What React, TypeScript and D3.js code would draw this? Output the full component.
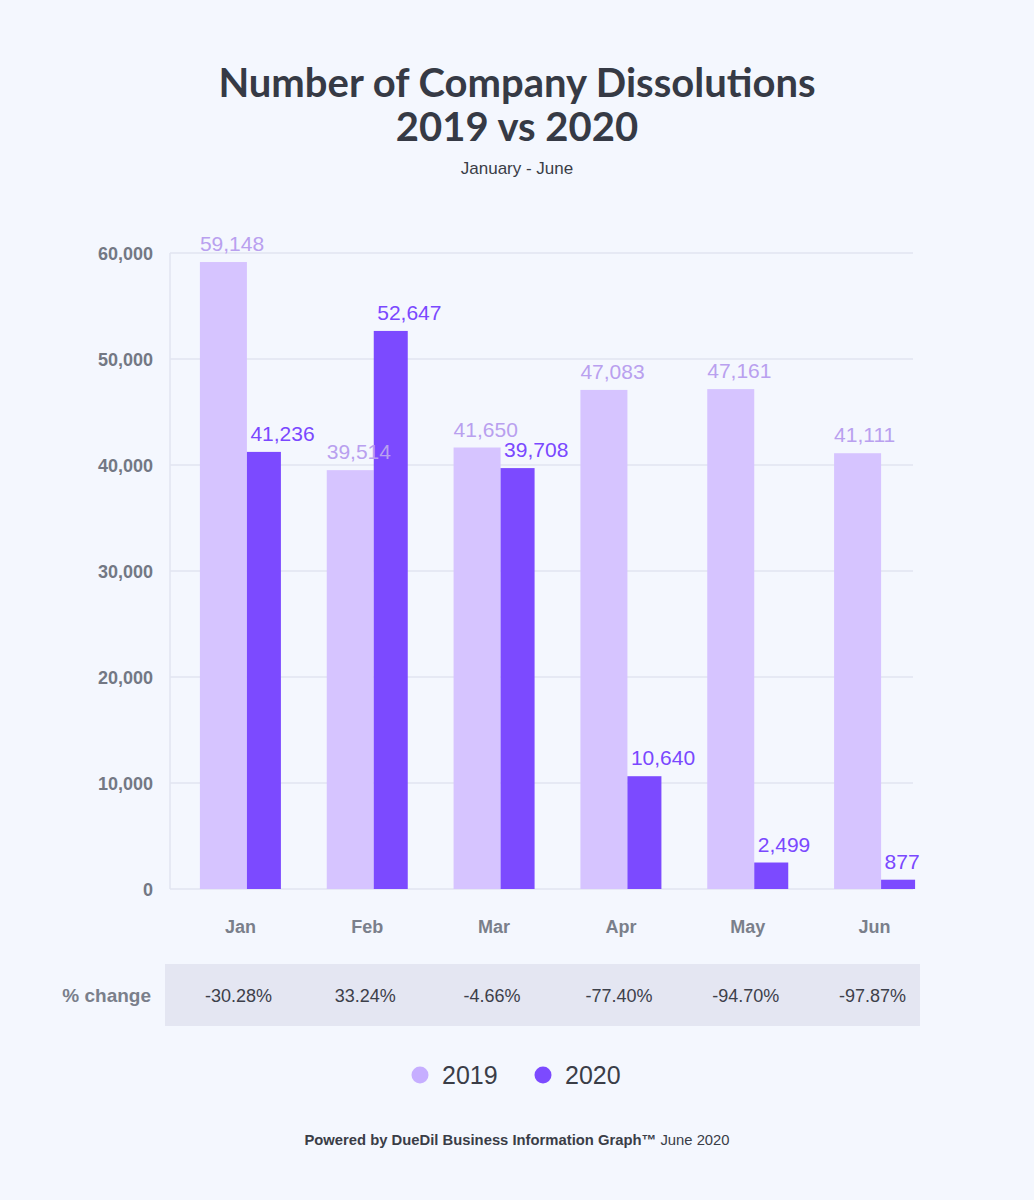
import React, { useRef, useEffect } from "react";
import * as d3 from "d3";

const months = ["Jan", "Feb", "Mar", "Apr", "May", "Jun"];
const values2019 = [59148, 39514, 41650, 47083, 47161, 41111];
const values2020 = [41236, 52647, 39708, 10640, 2499, 877];
const pctChange = ["-30.28%", "33.24%", "-4.66%", "-77.40%", "-94.70%", "-97.87%"];
const yTicks = [0, 10000, 20000, 30000, 40000, 50000, 60000];
const seriesNames = ["2019", "2020"];

const SANS = "'Liberation Sans', Arial, Helvetica, sans-serif";
const TITLE_FONT = "Lato, 'Liberation Sans', sans-serif";

const App = () => {
  const svgRef = useRef<SVGSVGElement>(null);

  useEffect(() => {
    document.body.style.margin = "0";
    const w = 1034;
    const h = 1200;
    const svg = d3
      .select(svgRef.current)
      .attr("width", w)
      .attr("height", h)
      .style("display", "block")
      .style("background", "#f4f7fe");

    svg.selectAll("*").remove();

    const xScale = d3.scaleBand().domain(months).range([177, 938]).padding(0);
    const yScale = d3.scaleLinear().domain([0, 60000]).range([889, 253]);
    const colors = d3.scaleOrdinal<string>().domain(seriesNames).range(["#d6c4ff", "#7c4aff"]);
    const labelColors = ["#b9a0ef", "#7a48ff"];
    const w2019 = 47;
    const w2020 = 34;
    const center = (m: string) => (xScale(m) as number) + xScale.bandwidth() / 2;

    // Titles
    svg.append("text").attr("x", w / 2).attr("y", 97).attr("text-anchor", "middle")
      .attr("font-family", TITLE_FONT).attr("font-weight", 700).attr("font-size", 40)
      .attr("fill", "#363a45").text("Number of Company Dissolutions");
    svg.append("text").attr("x", w / 2).attr("y", 141).attr("text-anchor", "middle")
      .attr("font-family", TITLE_FONT).attr("font-weight", 700).attr("font-size", 40)
      .attr("fill", "#363a45").text("2019 vs 2020");
    svg.append("text").attr("x", w / 2).attr("y", 174).attr("text-anchor", "middle")
      .attr("font-family", SANS).attr("font-size", 17)
      .attr("fill", "#3a3d47").text("January - June");

    // Grid lines
    svg.append("g").selectAll("line").data(yTicks).enter().append("line")
      .attr("x1", 170).attr("x2", 913)
      .attr("y1", (d) => yScale(d)).attr("y2", (d) => yScale(d))
      .attr("stroke", "#e2e4f0").attr("stroke-width", 1.5);
    svg.append("line").attr("x1", 170).attr("x2", 170)
      .attr("y1", yScale(60000)).attr("y2", yScale(0))
      .attr("stroke", "#e2e4f0").attr("stroke-width", 1.5);

    // Y axis labels
    const yAxis = d3.axisLeft(yScale).tickValues(yTicks).tickFormat(d3.format(",")).tickSize(0).tickPadding(17);
    const yg = svg.append("g").attr("transform", "translate(170,0)").call(yAxis);
    yg.select(".domain").remove();
    yg.selectAll(".tick text")
      .attr("font-family", SANS).attr("font-weight", 700).attr("font-size", 18)
      .attr("fill", "#737884").attr("dy", "0.36em");

    // Bars
    svg.append("g").selectAll("rect").data(values2019).enter().append("rect")
      .attr("x", (d, i) => center(months[i]) - 40.5)
      .attr("y", (d) => yScale(d))
      .attr("width", w2019)
      .attr("height", (d) => yScale(0) - yScale(d))
      .attr("fill", colors("2019"));
    svg.append("g").selectAll("rect").data(values2020).enter().append("rect")
      .attr("x", (d, i) => center(months[i]) + 6.5)
      .attr("y", (d) => yScale(d))
      .attr("width", w2020)
      .attr("height", (d) => yScale(0) - yScale(d))
      .attr("fill", colors("2020"));

    // Value labels
    svg.append("g").selectAll("text").data(values2019).enter().append("text")
      .attr("x", (d, i) => center(months[i]) - 40.5)
      .attr("y", (d) => yScale(d) - 11)
      .attr("font-family", SANS).attr("font-size", 21)
      .attr("fill", labelColors[0])
      .text((d) => d3.format(",")(d));
    svg.append("g").selectAll("text").data(values2020).enter().append("text")
      .attr("x", (d, i) => center(months[i]) + 10)
      .attr("y", (d) => yScale(d) - 11)
      .attr("font-family", SANS).attr("font-size", 21)
      .attr("fill", labelColors[1])
      .text((d) => d3.format(",")(d));

    // Month labels
    svg.append("g").selectAll("text").data(months).enter().append("text")
      .attr("x", (d) => center(d)).attr("y", 933).attr("text-anchor", "middle")
      .attr("font-family", SANS).attr("font-weight", 700).attr("font-size", 18)
      .attr("fill", "#7a7f8b").text((d) => d);

    // % change row
    svg.append("rect").attr("x", 165).attr("y", 964).attr("width", 755).attr("height", 62)
      .attr("fill", "#e4e6f2");
    svg.append("text").attr("x", 151).attr("y", 1002).attr("text-anchor", "end")
      .attr("font-family", SANS).attr("font-weight", 700).attr("font-size", 19)
      .attr("fill", "#7a7f8b").text("% change");
    svg.append("g").selectAll("text").data(pctChange).enter().append("text")
      .attr("x", (d, i) => center(months[i]) - 2).attr("y", 1002).attr("text-anchor", "middle")
      .attr("font-family", SANS).attr("font-size", 18)
      .attr("fill", "#3d404a").text((d) => d);

    // Legend
    const legendX = [420, 543];
    const legendDot = ["#c6aeff", "#7c4aff"];
    const lg = svg.append("g").selectAll("g").data(seriesNames).enter().append("g")
      .attr("transform", (d, i) => `translate(${legendX[i]},1075)`);
    lg.append("circle").attr("r", 8.5).attr("fill", (d, i) => legendDot[i]);
    lg.append("text").attr("x", 22).attr("y", 8.5)
      .attr("font-family", SANS).attr("font-size", 25)
      .attr("fill", "#3a3d47").text((d) => d);

    // Footer
    const footer = svg.append("text").attr("x", w / 2).attr("y", 1145).attr("text-anchor", "middle")
      .attr("font-family", SANS).attr("font-size", 14.8).attr("fill", "#3a3d47");
    footer.append("tspan").attr("font-weight", 700).text("Powered by DueDil Business Information Graph™");
    footer.append("tspan").text(" June 2020");
  }, []);

  return <svg ref={svgRef}></svg>;
};

export default App;
